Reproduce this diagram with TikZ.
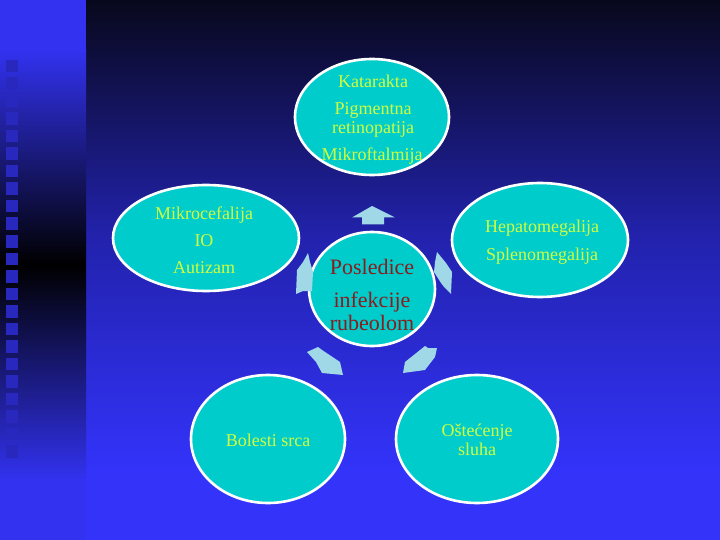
\documentclass[tikz,border=0pt]{standalone}
\usepackage{fontspec}
\setmainfont{Liberation Serif}
\usetikzlibrary{shapes.geometric}
\definecolor{bgblue}{RGB}{51,51,250}
\definecolor{bgdark}{RGB}{8,8,28}
\definecolor{bgmid}{RGB}{34,34,172}
\definecolor{stripblue}{RGB}{50,50,240}
\definecolor{sqcol}{RGB}{40,40,190}
\definecolor{cyanfill}{RGB}{0,204,204}
\definecolor{lbl}{RGB}{210,255,60}
\definecolor{redtxt}{RGB}{140,28,28}
\definecolor{arrcol}{RGB}{160,216,232}
\tikzset{
  ell/.style={ellipse, draw=white, line width=2.6pt, fill=cyanfill, inner sep=0pt},
  lab/.style={anchor=base, text=lbl, font=\fontsize{18}{20}\selectfont, inner sep=0pt},
  mid/.style={anchor=base, text=redtxt, font=\fontsize{22}{24}\selectfont, inner sep=0pt},
  blk/.style={fill=arrcol, draw=none},
  sq/.style={fill=sqcol, draw=none}
}
\begin{document}
\begin{tikzpicture}[x=1pt,y=-1pt]
\useasboundingbox (0,0) rectangle (720,540);
% backgrounds
\fill[bgblue] (86,470) rectangle (720,540);
\shade[top color=bgdark, bottom color=bgblue, middle color=bgmid, draw=none] (86,0) rectangle (720,470.5);
\fill[stripblue] (0,0) rectangle (86,540);
\shade[top color=stripblue, bottom color=stripblue, middle color=black, draw=none] (0,50) rectangle (86,480);
\foreach \i in {0,...,22}{
  \fill[sq] (6,{60+17.5*\i}) rectangle (18,{72.5+17.5*\i});
}
% ellipses
\node[ell, minimum width=154pt, minimum height=116pt] (top) at (372,117) {};
\node[ell, minimum width=186pt, minimum height=106pt] (left) at (206,238) {};
\node[ell, minimum width=176pt, minimum height=114pt] (right) at (540,240) {};
\node[ell, minimum width=154pt, minimum height=128pt] (bl) at (268,439) {};
\node[ell, minimum width=162pt, minimum height=128pt] (br) at (477,439) {};
\node[ell, minimum width=126pt, minimum height=114pt] (center) at (372,289) {};
% arrows
\fill[blk] (352,217.5) -- (372,206) -- (395,217.5) -- (384,217.5) -- (384,224.5) -- (362,224.5) -- (362,217.5) -- cycle;
\fill[blk] (308,253) -- (303,262) -- (297,270) -- (296,294) -- (303,291) -- (312,291) -- (313,272) -- (310,262) -- cycle;
\fill[blk] (437,252) -- (446,263) -- (452,272) -- (451,294) -- (444,287) -- (441,283) -- (434,272) -- (435,262) -- cycle;
\fill[blk] (307,352) -- (318,347) -- (322,350) -- (340,362) -- (343,375) -- (322,373) -- (316,362) -- cycle;
\fill[blk] (437,348) -- (428,348) -- (425,346) -- (405,362) -- (403,373) -- (425,370) -- (435,357) -- cycle;
% texts
\node[lab] (t1) at (373,88) {Katarakta};
\node[lab] (t2) at (373,115) {Pigmentna};
\node[lab] (t3) at (373,134) {retinopatija};
\node[lab] (t4) at (372,161) {Mikroftalmija};
\node[lab] (l1) at (204,220) {Mikrocefalija};
\node[lab] (l2) at (204,247) {IO};
\node[lab] (l3) at (204,273) {Autizam};
\node[lab] (r1) at (542,233) {Hepatomegalija};
\node[lab] (r2) at (542,260) {Splenomegalija};
\node[lab] (b1) at (268,446) {Bolesti srca};
\node[lab] (b2) at (477,436) {Oštećenje};
\node[lab] (b3) at (477,455) {sluha};
\node[mid] (c1) at (372,274) {Posledice};
\node[mid] (c2) at (372,307) {infekcije};
\node[mid] (c3) at (372,330) {rubeolom};
\end{tikzpicture}
\end{document}
